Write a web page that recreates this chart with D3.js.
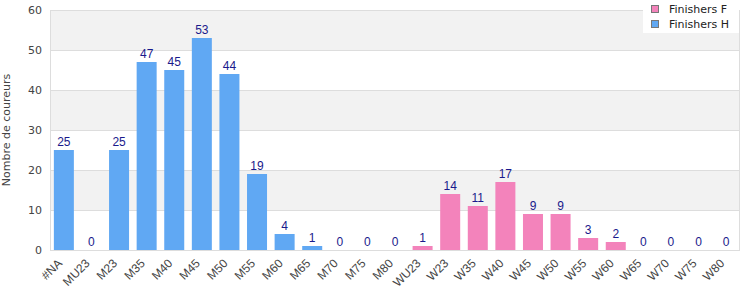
<!DOCTYPE html>
<html><head><meta charset="utf-8">
<script src="https://cdn.jsdelivr.net/npm/d3@7"></script>
<style>body{margin:0;background:#fff;}svg{display:block;font-family:"DejaVu Sans",Verdana,sans-serif;}</style>
</head><body>
<svg id="c" width="750" height="300"></svg>
<script>
const categories = ["#NA","MU23","M23","M35","M40","M45","M50","M55","M60","M65","M70","M75","M80","WU23","W23","W35","W40","W45","W50","W55","W60","W65","W70","W75","W80"];
const values = [25,0,25,47,45,53,44,19,4,1,0,0,0,1,14,11,17,9,9,3,2,0,0,0,0];
const series = ["H","H","H","H","H","H","H","H","H","H","H","H","H","F","F","F","F","F","F","F","F","F","F","F","F"];
const yTicks = [0,10,20,30,40,50,60];
const legendLabels = ["Finishers F","Finishers H"];

const colors = {F:"#f383bb", H:"#60a8f3"};
const svg = d3.select("#c");
const m = {l:50, r:10, t:10, b:50};
const W = 750, H = 300;
const x = d3.scaleBand().domain(categories).range([m.l, W-m.r]).paddingInner(0.275).paddingOuter(0.14);
const y = d3.scaleLinear().domain([0,60]).range([H-m.b, m.t]);

// bands
for (let i=0;i<yTicks.length-1;i++){
  if (i%2===1) svg.append("rect").attr("x",m.l).attr("width",W-m.r-m.l)
    .attr("y",y(yTicks[i+1])).attr("height",y(yTicks[i])-y(yTicks[i+1])).attr("fill","#f2f2f2");
}
svg.selectAll("line.g").data(yTicks).join("line").attr("x1",m.l).attr("x2",W-m.r)
  .attr("y1",d=>y(d)+0.5).attr("y2",d=>y(d)+0.5).attr("stroke","#dddddd");
svg.append("rect").attr("x",m.l+0.5).attr("y",m.t+0.5).attr("width",W-m.r-m.l-1).attr("height",H-m.b-m.t)
  .attr("fill","none").attr("stroke","#dddddd");

// y axis labels
svg.selectAll("text.yt").data(yTicks).join("text").attr("x",m.l-8).attr("y",d=>y(d)+4)
  .attr("text-anchor","end").attr("font-size",11).attr("fill","#444").text(d=>d);
svg.append("text").attr("transform",`translate(10,${(m.t+H-m.b)/2}) rotate(-90)`)
  .attr("text-anchor","middle").attr("font-size",11).attr("fill","#444").text("Nombre de coureurs");

// bars
svg.selectAll("rect.b").data(categories).join("rect")
  .attr("x",d=>x(d)).attr("width",x.bandwidth())
  .attr("y",(d,i)=>y(values[i])).attr("height",(d,i)=>y(0)-y(values[i]))
  .attr("fill",(d,i)=>colors[series[i]]);

// value labels
svg.selectAll("text.v").data(categories).join("text")
  .attr("x",d=>x(d)+x.bandwidth()/2).attr("y",(d,i)=>y(values[i])-4)
  .attr("text-anchor","middle").attr("font-size",12).attr("font-family","'Liberation Sans',Arial,sans-serif")
  .attr("fill","#1a1a8c").text((d,i)=>values[i]);

// x labels
svg.selectAll("text.xl").data(categories).join("text")
  .attr("transform",d=>`translate(${x(d)+x.bandwidth()/2-1},${y(0)+14}) rotate(-45)`)
  .attr("text-anchor","end").attr("font-size",12).attr("font-family","'Liberation Sans',Arial,sans-serif")
  .attr("fill","#444").text(d=>d);

// legend
const lg = svg.append("g");
lg.append("rect").attr("x",643).attr("y",0).attr("width",96).attr("height",33).attr("fill","#fff");
legendLabels.forEach((t,i)=>{
  const c = i===0?colors.F:colors.H;
  lg.append("rect").attr("x",651.5).attr("y",5.5+i*15).attr("width",7).attr("height",7)
    .attr("fill",c).attr("stroke","#777");
  lg.append("text").attr("x",669).attr("y",12.5+i*15).attr("font-size",11).attr("fill","#222").text(t);
});
</script>
</body></html>
